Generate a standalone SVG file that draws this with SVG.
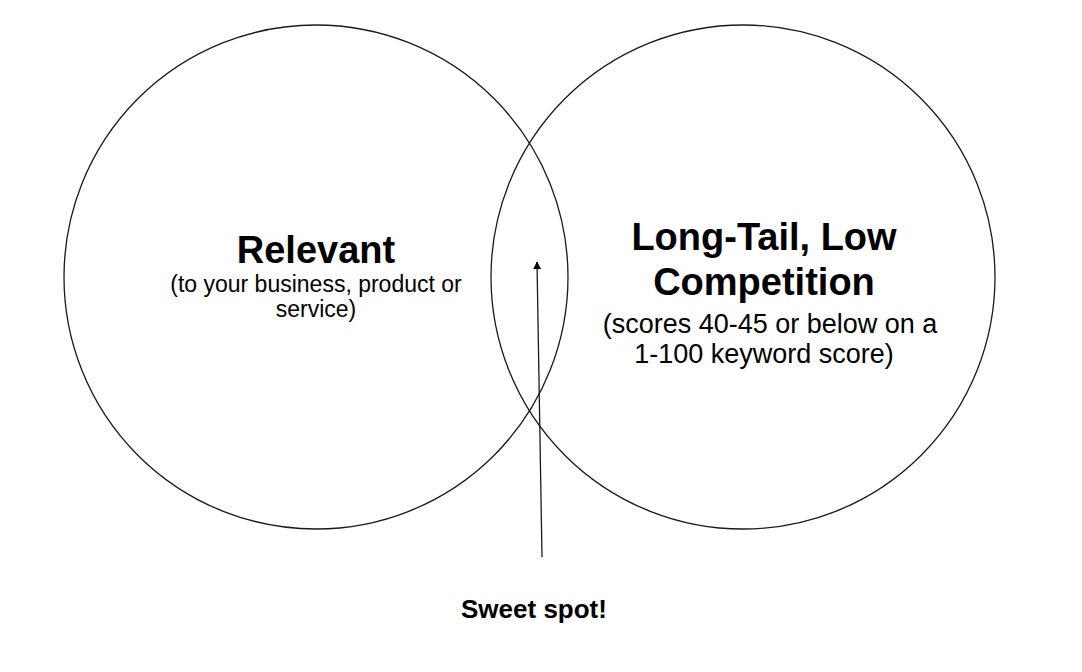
<svg xmlns="http://www.w3.org/2000/svg" width="1082" height="672" viewBox="0 0 1082 672">
<style>
.c{fill:none;stroke:#1a1a1a;stroke-width:1.3}
.t{font-family:"Liberation Sans",Arial,sans-serif;fill:#000;text-anchor:middle}
.b{font-weight:bold}
</style>
<defs>
<marker id="ah" viewBox="0 0 10 10" refX="9" refY="5" markerWidth="8" markerHeight="8" markerUnits="userSpaceOnUse" orient="auto"><path d="M0,0 L10,5 L0,10 z" fill="#000"/></marker>
</defs>
<rect width="1082" height="672" fill="#fff"/>
<g id="relevant">
<circle class="c" cx="316" cy="277" r="252"/>
<text class="t b" x="316" y="263" font-size="38">Relevant</text>
<text class="t" x="316" y="292" font-size="23">(to your business, product or</text>
<text class="t" x="316" y="317" font-size="23">service)</text>
</g>
<g id="longtail">
<circle class="c" cx="743" cy="277" r="252"/>
<text class="t b" x="764" y="250" font-size="38">Long-Tail, Low</text>
<text class="t b" x="764" y="295" font-size="38">Competition</text>
<text class="t" x="770" y="333" font-size="27">(scores 40-45 or below on a</text>
<text class="t" x="764" y="363" font-size="27">1-100 keyword score)</text>
</g>
<g id="connectors">
<line x1="542" y1="557" x2="537" y2="262" stroke="#1a1a1a" stroke-width="1.3" marker-end="url(#ah)"/>
</g>
<g id="sweetspot">
<text class="t b" x="534" y="618" font-size="26">Sweet spot!</text>
</g>
</svg>
